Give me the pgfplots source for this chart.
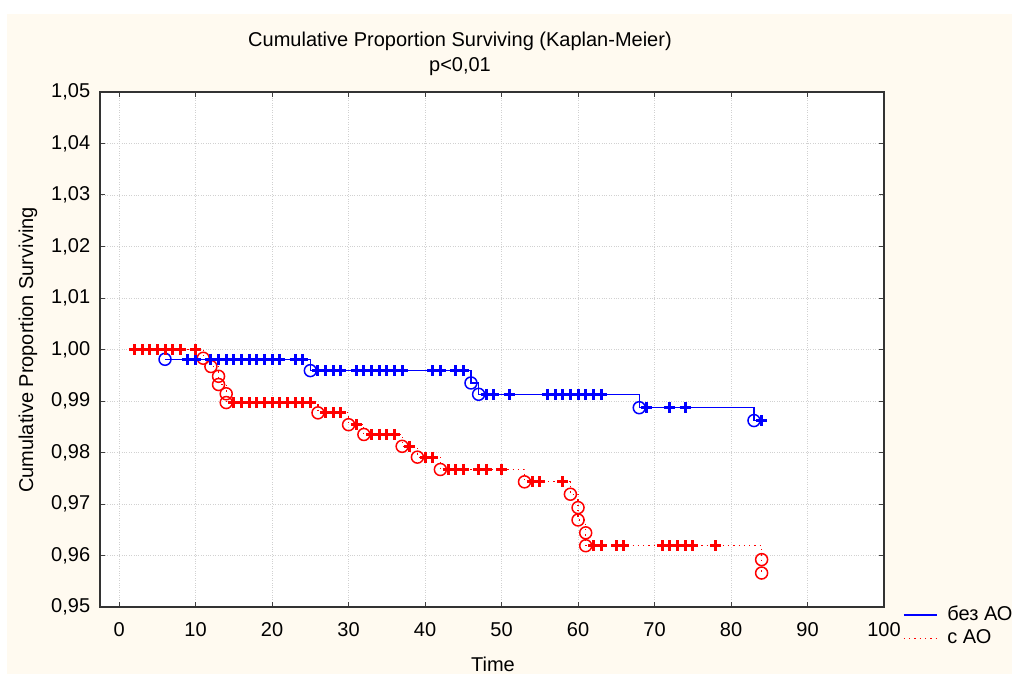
\documentclass[border=0pt]{standalone}
\usepackage{pgfplots}
\pgfplotsset{compat=1.18}
\usepackage{fontspec}
\setmainfont{Liberation Sans}
\definecolor{cream}{RGB}{255,250,240}
\begin{document}
\fontsize{20}{24}\selectfont
\begin{tikzpicture}
\fill[white] (-100pt,-68pt) rectangle (919pt,607pt);
\fill[cream] (-93pt,-67pt) rectangle (912pt,593pt);
\node at (360pt,566pt) {Cumulative Proportion Surviving (Kaplan-Meier)};
\node at (360pt,540pt) {p<0,01};
\node at (393pt,-57pt) {Time};
\node[rotate=90] at (-72pt,257pt) {Cumulative Proportion Surviving};
\begin{axis}[
  at={(0pt,0pt)}, anchor=south west,
  scale only axis, width=784pt, height=515pt,
  xmin=-2.5, xmax=100, ymin=0.95, ymax=1.05,
  xtick={0,10,20,30,40,50,60,70,80,90,100},
  ytick={0.95,0.96,0.97,0.98,0.99,1.00,1.01,1.02,1.03,1.04,1.05},
  tick align=inside, major tick length=5pt,
  tick style={black!75, line width=1pt},
  axis line style={black!80, line width=1.4pt},
  axis background/.style={fill=white},
  grid=major, major grid style={dotted, black!18, line width=0.8pt},
  /pgf/number format/assume math mode=true,
  ticklabel style={font=\fontsize{20}{24}\selectfont},
  xticklabel style={yshift=-9pt, /pgf/number format/.cd, fixed, precision=0},
  yticklabel style={xshift=-3pt, /pgf/number format/.cd, fixed, fixed zerofill, precision=2, use comma},
  legend style={draw=none, fill=none, at={(rel axis cs:1,0)}, anchor=north west,
    xshift=16pt, yshift=5pt, font=\fontsize{20}{24}\selectfont, row sep=2pt,
    /tikz/every odd column/.append style={column sep=8pt}},
  legend cell align=left,
  legend image code/.code={\draw[#1] (0pt,0pt) -- (33pt,0pt);},
]
% step lines
\addplot[blue, line width=1.2pt, const plot, mark=none] coordinates {
 (6,0.9981) (25,0.9959) (46,0.9935) (47,0.9913) (68,0.9887) (83,0.9862) (84,0.9862)};
\addlegendentry{без АО}
\addplot[red, line width=1.2pt, dash pattern=on 1.3pt off 4pt, const plot, mark=none] coordinates {
 (2,1.000) (11,0.9983) (12,0.9967) (13,0.9948) (13,0.9932) (14,0.9914) (14,0.9897)
 (26,0.9877) (30,0.9854) (32,0.9835) (37,0.9812) (39,0.9791) (42,0.9767) (53,0.9743)
 (59,0.9719) (60,0.9693) (60,0.9669) (61,0.9644) (61,0.9619) (84,0.9592) (84,0.9566)};
\addlegendentry{с АО}
% events (circles)
\addplot[forget plot, only marks, blue, mark=o, mark size=6pt, mark options={line width=1.5pt}] coordinates {
 (6,0.9981) (25,0.9959) (46,0.9935) (47,0.9913) (68,0.9887) (83,0.9862)};
\addplot[forget plot, only marks, red, mark=o, mark size=6pt, mark options={line width=1.5pt, solid}] coordinates {
 (11,0.9983) (12,0.9967) (13,0.9948) (13,0.9932) (14,0.9914) (14,0.9897)
 (26,0.9877) (30,0.9854) (32,0.9835) (37,0.9812) (39,0.9791) (42,0.9767) (53,0.9743)
 (59,0.9719) (60,0.9693) (60,0.9669) (61,0.9644) (61,0.9619) (84,0.9592) (84,0.9566)};
% censored (plus)
\addplot[forget plot, only marks, blue, mark=+, mark size=5.5pt, mark options={line width=3pt}] coordinates {
 (9,0.9981) (10,0.9981) (12,0.9981) (13,0.9981) (14,0.9981) (15,0.9981) (16,0.9981)
 (17,0.9981) (18,0.9981) (19,0.9981) (20,0.9981) (21,0.9981) (23,0.9981) (24,0.9981)
 (26,0.9959) (27,0.9959) (28,0.9959) (29,0.9959) (31,0.9959) (32,0.9959) (33,0.9959)
 (34,0.9959) (35,0.9959) (36,0.9959) (37,0.9959) (41,0.9959) (42,0.9959) (44,0.9959) (45,0.9959)
 (48,0.9913) (49,0.9913) (51,0.9913) (56,0.9913) (57,0.9913) (58,0.9913) (59,0.9913)
 (60,0.9913) (61,0.9913) (62,0.9913) (63,0.9913)
 (69,0.9887) (72,0.9887) (74,0.9887) (84,0.9862)};
\addplot[forget plot, only marks, red, mark=+, mark size=5.5pt, mark options={line width=3pt, solid}] coordinates {
 (2,1.000) (3,1.000) (4,1.000) (5,1.000) (6,1.000) (7,1.000) (8,1.000) (10,1.000)
 (15,0.9897) (16,0.9897) (17,0.9897) (18,0.9897) (19,0.9897) (20,0.9897) (21,0.9897)
 (22,0.9897) (23,0.9897) (24,0.9897) (25,0.9897)
 (27,0.9877) (28,0.9877) (29,0.9877) (31,0.9854)
 (33,0.9835) (34,0.9835) (35,0.9835) (36,0.9835) (38,0.9812) (40,0.9791) (41,0.9791)
 (43,0.9767) (44,0.9767) (45,0.9767) (47,0.9767) (48,0.9767) (50,0.9767)
 (54,0.9743) (55,0.9743) (58,0.9743)
 (62,0.9619) (63,0.9619) (65,0.9619) (66,0.9619) (71,0.9619) (72,0.9619) (73,0.9619)
 (74,0.9619) (75,0.9619) (78,0.9619)};
\end{axis}
\end{tikzpicture}
\end{document}
